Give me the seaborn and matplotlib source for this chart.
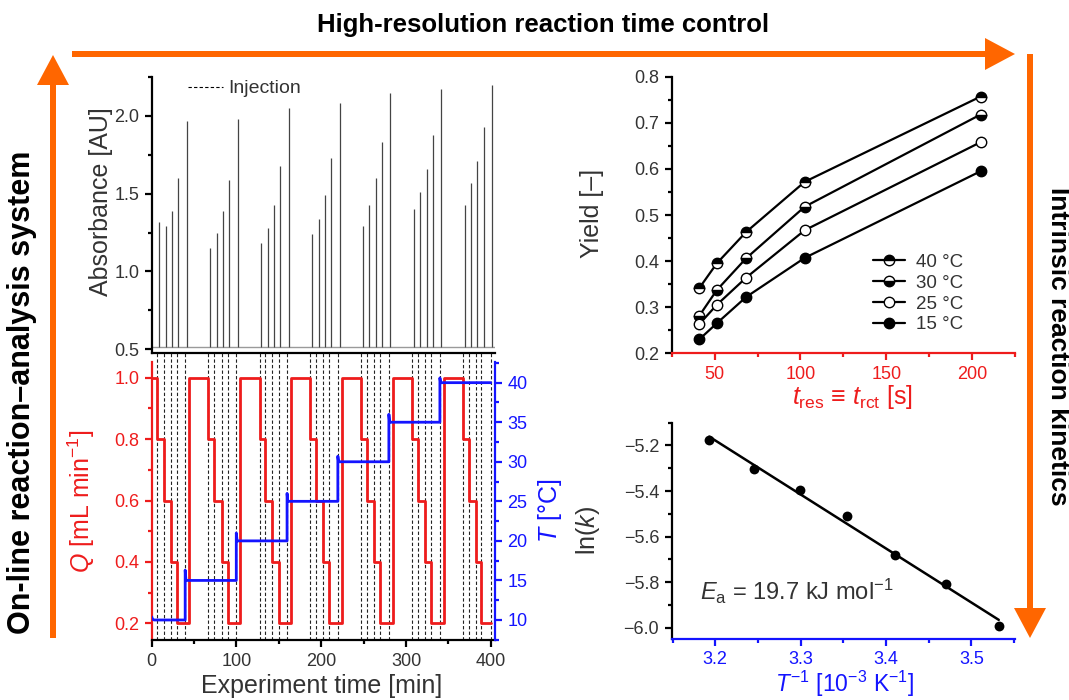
import numpy as np
import pandas as pd
import matplotlib
matplotlib.use("Agg")
import matplotlib.pyplot as plt
import seaborn as sns
from matplotlib.ticker import MultipleLocator, FuncFormatter
from matplotlib.lines import Line2D
from matplotlib.patches import FancyArrow

# ---------------- data ----------------
injection_times = [6.7, 14.6, 22.5, 29.6, 39.4, 67.0, 73.7, 82.8, 89.5, 99.7,
                   127.3, 134.0, 141.9, 149.8, 159.6, 187.2, 194.3, 202.2, 208.9, 219.5,
                   247.5, 254.2, 262.0, 269.2, 279.8, 307.4, 314.0, 322.0, 329.0, 340.0,
                   367.7, 374.4, 382.3, 389.0, 400.0]
peak_times = [8.6, 16.5, 24.0, 31.5, 41.3, 68.9, 76.8, 83.9, 91.4, 101.6,
              128.8, 136.7, 144.2, 151.7, 161.5, 189.1, 197.0, 204.1, 211.6, 221.8,
              249.0, 256.9, 264.8, 271.5, 281.7, 309.3, 316.4, 324.3, 331.4, 341.7,
              369.2, 377.1, 384.2, 392.1, 402.0]
peak_heights = [1.32, 1.29, 1.39, 1.60, 1.97, 1.15, 1.25, 1.39, 1.59, 1.98,
                1.18, 1.28, 1.43, 1.68, 2.05, 1.24, 1.34, 1.49, 1.73, 2.08,
                1.29, 1.43, 1.60, 1.83, 2.15, 1.40, 1.51, 1.66, 1.88, 2.17,
                1.43, 1.57, 1.71, 1.93, 2.20]
absorbance_baseline = 0.515

q_times = [0.0, 6.7, 14.6, 22.5, 29.6, 44.5, 67.0, 73.7, 82.8, 89.5, 104.4,
           127.3, 134.0, 141.9, 149.8, 164.7, 187.2, 194.3, 202.2, 208.9, 224.6,
           247.5, 254.2, 262.0, 269.2, 285.0, 307.4, 314.0, 322.0, 329.0, 344.8,
           367.7, 374.4, 382.3, 389.0, 400.0]
q_values = [1.0, 0.8, 0.6, 0.4, 0.2, 1.0, 0.8, 0.6, 0.4, 0.2, 1.0,
            0.8, 0.6, 0.4, 0.2, 1.0, 0.8, 0.6, 0.4, 0.2, 1.0,
            0.8, 0.6, 0.4, 0.2, 1.0, 0.8, 0.6, 0.4, 0.2, 1.0,
            0.8, 0.6, 0.4, 0.2, 0.2]

temp_times = [0.0, 1.0, 3.0, 39.5, 39.5, 40.4, 99.8, 99.8, 100.7, 159.7, 159.7, 160.6,
              219.6, 219.6, 220.5, 279.8, 279.8, 280.7, 340.0, 340.0, 340.9, 400.0]
temp_values = [10.4, 10.1, 10.0, 10.0, 16.3, 15.0, 15.0, 21.0, 20.0, 20.0, 26.0, 25.0,
               25.0, 30.7, 30.0, 30.0, 36.0, 35.0, 35.0, 40.6, 40.0, 40.0]

t_res = [41.0, 51.25, 68.33, 102.5, 205.0]
yield_40 = [0.341, 0.395, 0.463, 0.572, 0.757]
yield_30 = [0.281, 0.337, 0.406, 0.518, 0.718]
yield_25 = [0.263, 0.305, 0.364, 0.467, 0.658]
yield_15 = [0.230, 0.265, 0.322, 0.407, 0.595]
yield_labels = ["40 °C", "30 °C", "25 °C", "15 °C"]

inv_T = [3.193, 3.245, 3.299, 3.354, 3.411, 3.470, 3.532]
ln_k = [-5.176, -5.304, -5.396, -5.510, -5.679, -5.809, -5.992]

# ---------------- style ----------------
sns.set_style("ticks")
plt.rcParams["font.family"] = ["Liberation Sans", "DejaVu Sans"]
plt.rcParams["mathtext.fontset"] = "custom"
plt.rcParams["mathtext.rm"] = "Liberation Sans"
plt.rcParams["mathtext.it"] = "Liberation Sans:italic"
plt.rcParams["mathtext.bf"] = "Liberation Sans:bold"

RED = "#EE1C1C"
BLUE = "#1414FF"
ORANGE = "#FF6600"
TXT = "#333333"
TICK_FS = 13
LAB_FS = 18
SPW = 1.6

W, H = 1069, 700
fig = plt.figure(figsize=(W / 100, H / 100), dpi=100)

fmt1 = FuncFormatter(lambda v, p: f"{v:.1f}".replace("-", "\u2212"))


def frac(x0, y0, x1, y1):
    return [x0 / W, 1 - y1 / H, (x1 - x0) / W, (y1 - y0) / H]


def style_ticks(ax, axis, color, labelcolor):
    ax.tick_params(axis=axis, which="major", direction="out", length=5, width=SPW,
                   color=color, labelcolor=labelcolor, labelsize=TICK_FS, pad=4)
    ax.tick_params(axis=axis, which="minor", direction="out", length=3, width=SPW,
                   color=color)


# overlay for arrows and side titles
ov = fig.add_axes([0, 0, 1, 1], zorder=0)
ov.set_xlim(0, W)
ov.set_ylim(H, 0)
ov.axis("off")
for (x, y, dx, dy) in [(72, 54, 943, 0), (53, 638, 0, -583), (1030, 54, 0, 584)]:
    ov.add_patch(FancyArrow(x, y, dx, dy, width=6, head_width=32, head_length=30,
                            length_includes_head=True, color=ORANGE, lw=0))
ov.text(543, 25, "High-resolution reaction time control", ha="center", va="center",
        fontsize=18.5, fontweight="bold", color="black")
ov.text(22, 392, "On-line reaction–analysis system", ha="center", va="center",
        rotation=90, fontsize=22, fontweight="bold", color="black")
ov.text(1058, 346, "Intrinsic reaction kinetics", ha="center", va="center",
        rotation=270, fontsize=19, fontweight="bold", color="black")

# ---------------- top-left: absorbance ----------------
axA = fig.add_axes(frac(151.7, 77, 495, 353), zorder=2)
axA.patch.set_alpha(0)
axA.set_xlim(0, 405)
axA.set_ylim(0.476, 2.25)
axA.axhline(absorbance_baseline, color="#9a9a9a", lw=1.0, zorder=1)
axA.vlines(peak_times, absorbance_baseline, peak_heights, color="#444444", lw=0.9, zorder=2)
for s in ["top", "right"]:
    axA.spines[s].set_visible(False)
for s in ["left", "bottom"]:
    axA.spines[s].set_linewidth(SPW)
    axA.spines[s].set_color("black")
axA.set_xticks([])
axA.yaxis.set_major_locator(MultipleLocator(0.5))
axA.yaxis.set_minor_locator(MultipleLocator(0.25))
axA.yaxis.set_major_formatter(fmt1)
style_ticks(axA, "y", "black", TXT)
axA.set_ylabel("Absorbance [AU]", fontsize=LAB_FS, color=TXT)
axA.yaxis.set_label_coords(-0.113, 0.547)
inj_handle = Line2D([], [], color="black", lw=0.8, ls=(0, (3, 2)))
axA.legend([inj_handle], ["Injection"], loc="upper left", bbox_to_anchor=(0.105, 0.99),
           frameon=False, fontsize=14, handlelength=1.8, handletextpad=0.3,
           borderpad=0, borderaxespad=0, labelcolor=TXT)

# ---------------- bottom-left: Q and T ----------------
axQ = fig.add_axes(frac(151.7, 353, 495, 640), zorder=2)
axQ.patch.set_alpha(0)
axQ.set_xlim(0, 405)
axQ.set_ylim(0.1456, 1.0805)
for t in injection_times:
    axQ.axvline(t, color="#222222", lw=0.8, ls=(0, (3, 2)), zorder=1)
dfQ = pd.DataFrame({"time": q_times, "Q": q_values})
sns.lineplot(data=dfQ, x="time", y="Q", ax=axQ, color=RED, lw=2.0,
             drawstyle="steps-post", estimator=None, sort=False, zorder=3)
axQ.spines["top"].set_visible(False)
axQ.spines["right"].set_visible(False)
axQ.spines["left"].set_color(RED)
axQ.spines["left"].set_linewidth(SPW)
axQ.spines["left"].set_bounds(0.1456, 1.051)
axQ.spines["bottom"].set_color("black")
axQ.spines["bottom"].set_linewidth(SPW)
axQ.xaxis.set_major_locator(MultipleLocator(100))
axQ.xaxis.set_minor_locator(MultipleLocator(50))
axQ.yaxis.set_major_locator(MultipleLocator(0.2))
axQ.yaxis.set_minor_locator(MultipleLocator(0.1))
axQ.yaxis.set_major_formatter(fmt1)
style_ticks(axQ, "x", "black", TXT)
style_ticks(axQ, "y", RED, RED)
axQ.set_xlabel("Experiment time [min]", fontsize=LAB_FS, color=TXT)
axQ.xaxis.set_label_coords(0.496, -0.118)
axQ.set_ylabel("$Q$ [mL min$^{-1}$]", fontsize=LAB_FS, color=RED)
axQ.yaxis.set_label_coords(-0.159, 0.484)

axT = axQ.twinx()
axT.set_zorder(3)
axT.patch.set_alpha(0)
axT.set_ylim(7.47, 43.75)
dfT = pd.DataFrame({"time": temp_times, "T": temp_values})
sns.lineplot(data=dfT, x="time", y="T", ax=axT, color=BLUE, lw=2.0,
             estimator=None, sort=False)
axT.set_xlim(0, 405)
for s in ["top", "left", "bottom"]:
    axT.spines[s].set_visible(False)
axT.spines["right"].set_color(BLUE)
axT.spines["right"].set_linewidth(SPW)
axT.spines["right"].set_bounds(7.47, 42.6)
axT.yaxis.set_major_locator(MultipleLocator(5))
axT.yaxis.set_minor_locator(MultipleLocator(2.5))
style_ticks(axT, "y", BLUE, BLUE)
axT.set_ylabel("$T$ [°C]", fontsize=LAB_FS, color=BLUE, rotation=90)
axT.yaxis.set_label_coords(1.119, 0.45)
axT.set_xlabel("")

# ---------------- top-right: yield ----------------
axY = fig.add_axes(frac(671.7, 76.7, 1015, 353.3), zorder=2)
axY.patch.set_alpha(0)
series = [(yield_40, "top", "k"), (yield_30, "bottom", "k"),
          (yield_25, "full", "white"), (yield_15, "full", "k")]
handles = []
for (vals, fs, fc), lab in zip(series, yield_labels):
    d = pd.DataFrame({"tres": t_res, "yield": vals})
    sns.lineplot(data=d, x="tres", y="yield", ax=axY, color="black", lw=1.6,
                 marker="o", markersize=7.5, markeredgecolor="black", markeredgewidth=1.0,
                 markerfacecolor=fc, fillstyle=fs, markerfacecoloralt="white",
                 estimator=None, sort=False)
    handles.append(Line2D([], [], color="black", lw=1.6, marker="o", markersize=7.5,
                          markeredgecolor="black", markeredgewidth=1.0,
                          markerfacecolor=fc, fillstyle=fs, markerfacecoloralt="white"))
axY.set_xlim(25, 225)
axY.set_ylim(0.2, 0.8)
for s in ["top", "right"]:
    axY.spines[s].set_visible(False)
axY.spines["left"].set_color("black")
axY.spines["left"].set_linewidth(SPW)
axY.spines["bottom"].set_color(RED)
axY.spines["bottom"].set_linewidth(SPW)
axY.xaxis.set_major_locator(MultipleLocator(50))
axY.xaxis.set_minor_locator(MultipleLocator(25))
axY.yaxis.set_major_locator(MultipleLocator(0.1))
axY.yaxis.set_minor_locator(MultipleLocator(0.05))
axY.yaxis.set_major_formatter(fmt1)
style_ticks(axY, "x", RED, RED)
style_ticks(axY, "y", "black", TXT)
axY.set_xlabel(r"$t_{\mathrm{res}}$ ≡ $t_{\mathrm{rct}}$ [s]", fontsize=LAB_FS, color=RED)
axY.xaxis.set_label_coords(0.528, -0.107)
axY.set_ylabel("Yield [–]", fontsize=LAB_FS, color=TXT)
axY.yaxis.set_label_coords(-0.197, 0.504)
axY.legend(handles, yield_labels, loc="upper left", bbox_to_anchor=(0.586, 0.36),
           frameon=False, fontsize=13.5, handlelength=1.7, handletextpad=0.6,
           labelspacing=0.2, borderpad=0, borderaxespad=0, labelcolor=TXT)

# ---------------- bottom-right: Arrhenius ----------------
axK = fig.add_axes(frac(671.7, 422.7, 1015, 639), zorder=2)
axK.patch.set_alpha(0)
dfK = pd.DataFrame({"invT": inv_T, "lnk": ln_k})
sns.regplot(data=dfK, x="invT", y="lnk", ax=axK, ci=None, color="black",
            scatter_kws={"s": 50, "color": "black", "zorder": 3, "linewidths": 0,
                         "alpha": 1.0},
            line_kws={"lw": 1.8, "color": "black"})
axK.set_xlim(3.149, 3.551)
axK.set_ylim(-6.05, -5.1)
for s in ["top", "right"]:
    axK.spines[s].set_visible(False)
axK.spines["left"].set_color("black")
axK.spines["left"].set_linewidth(SPW)
axK.spines["bottom"].set_color(BLUE)
axK.spines["bottom"].set_linewidth(SPW)
axK.xaxis.set_major_locator(MultipleLocator(0.1))
axK.xaxis.set_minor_locator(MultipleLocator(0.05))
axK.xaxis.set_major_formatter(fmt1)
axK.yaxis.set_major_locator(MultipleLocator(0.2))
axK.yaxis.set_minor_locator(MultipleLocator(0.1))
axK.yaxis.set_major_formatter(fmt1)
style_ticks(axK, "x", BLUE, BLUE)
style_ticks(axK, "y", "black", TXT)
axK.set_xlabel("$T^{-1}$ [10$^{-3}$ K$^{-1}$]", fontsize=16.5, color=BLUE)
axK.xaxis.set_label_coords(0.505, -0.14)
axK.set_ylabel("ln($k$)", fontsize=LAB_FS, color=TXT)
axK.yaxis.set_label_coords(-0.203, 0.5)
axK.text(0.082, 0.22, "$E_{\\mathrm{a}}$ = 19.7 kJ mol$^{-1}$", transform=axK.transAxes,
         fontsize=17, color=TXT, ha="left", va="center")

fig.savefig("out.png", dpi=100)
